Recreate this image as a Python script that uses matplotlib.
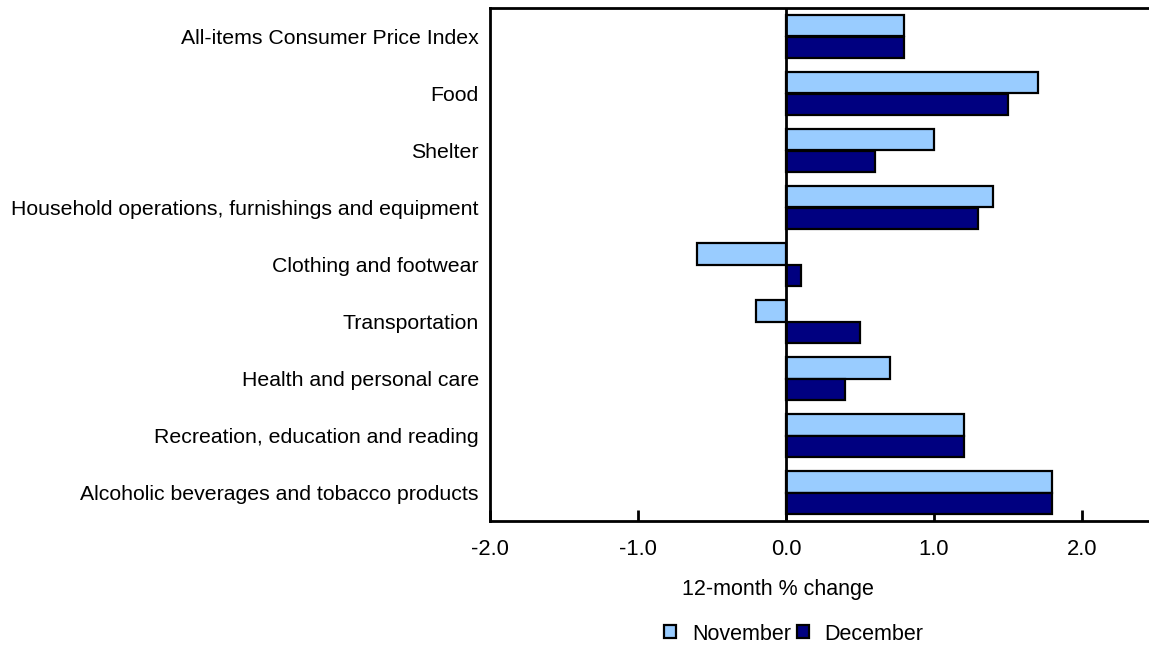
import numpy as np
import matplotlib
matplotlib.use('Agg')
import matplotlib.pyplot as plt
from matplotlib.patches import Patch

plt.rcParams['font.family'] = ['Liberation Sans', 'DejaVu Sans']

categories = ['All-items Consumer Price Index', 'Food', 'Shelter',
              'Household operations, furnishings and equipment',
              'Clothing and footwear', 'Transportation',
              'Health and personal care', 'Recreation, education and reading',
              'Alcoholic beverages and tobacco products']
november = [0.8, 1.7, 1.0, 1.4, -0.6, -0.2, 0.7, 1.2, 1.8]
december = [0.8, 1.5, 0.6, 1.3, 0.1, 0.5, 0.4, 1.2, 1.8]
xticks = [-2.0, -1.0, 0.0, 1.0, 2.0]

W, H = 1149, 645
fig = plt.figure(figsize=(W / 100, H / 100), dpi=100)
ax = fig.add_axes([490 / W, 1 - 521 / H, (W - 490) / W, (521 - 8) / H])

y = np.arange(len(categories))
h = 0.37
ax.barh(y - h / 2, november, height=h, color='#99CCFF', edgecolor='black', linewidth=1.6, label='November', zorder=2)
ax.barh(y + h / 2, december, height=h, color='#000080', edgecolor='black', linewidth=1.6, label='December', zorder=2)
ax.axvline(0, color='black', linewidth=2, zorder=3)

ax.set_xlim(-2.0, -2.0 + (W - 490) / 148.0)
ax.set_ylim(len(categories) - 0.5, -0.5)
ax.set_yticks(y)
ax.set_yticklabels(categories, fontsize=15.3)
ax.set_xticks(xticks)
ax.set_xticklabels(['%.1f' % v for v in xticks], fontsize=15.8)
ax.tick_params(axis='y', length=0, pad=8)
ax.tick_params(axis='x', direction='in', length=8, width=2, pad=13)
for s in ['left', 'bottom', 'top']:
    ax.spines[s].set_linewidth(2)
ax.spines['right'].set_visible(False)
ax.set_xlabel('12-month % change', fontsize=15.5)
# label sits a bit left of the axes centre in the original
ax.xaxis.set_label_coords((778 - 490) / (W - 490), -(579 - 521) / (521 - 8))

handles = [Patch(facecolor='#99CCFF', edgecolor='black', linewidth=1.6),
           Patch(facecolor='#000080', edgecolor='black', linewidth=1.6)]
fig.legend(handles, ['November', 'December'], loc='center', bbox_to_anchor=(794 / W, 1 - 634 / H),
           ncol=2, frameon=False, fontsize=15.5, handlelength=0.55, handleheight=0.55,
           handletextpad=0.75, columnspacing=0.25)

fig.savefig('out.png', dpi=100)
